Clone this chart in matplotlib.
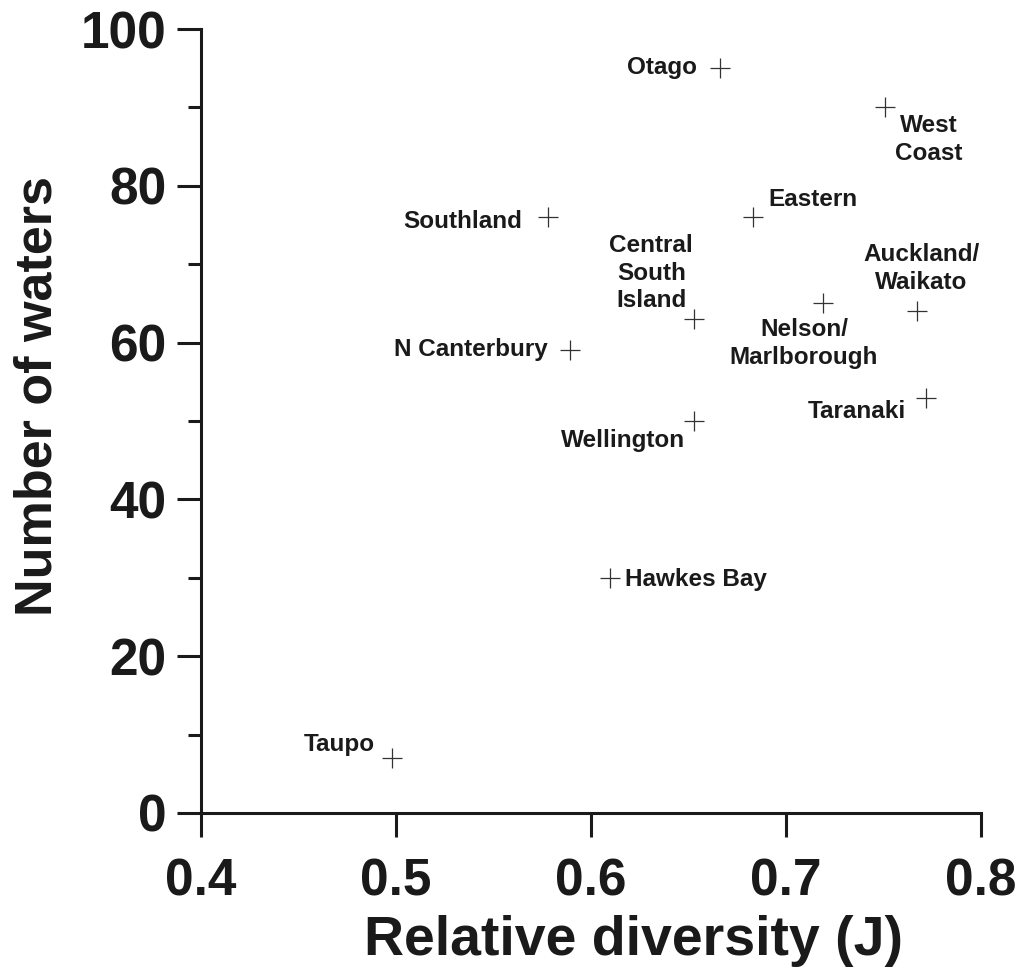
import matplotlib
matplotlib.use("Agg")
import matplotlib.pyplot as plt
from matplotlib.ticker import MultipleLocator, FormatStrFormatter

# Regional data: relative diversity (J) vs number of waters
regions = ["Otago", "West\nCoast", "Eastern", "Southland", "Central\nSouth\nIsland",
           "Nelson/\nMarlborough", "Auckland/\nWaikato", "N Canterbury",
           "Wellington", "Taranaki", "Hawkes Bay", "Taupo"]
diversity = [0.666, 0.751, 0.683, 0.578, 0.653, 0.719, 0.767, 0.589, 0.653, 0.772, 0.610, 0.498]
n_waters = [95, 90, 76, 76, 63, 65, 64, 59, 50, 53, 30, 7]

# label placement: (dx, dy) in pixels, horizontal alignment
label_pos = {
    "Otago": (-23, 1, "right"),
    "West\nCoast": (43, -32, "center"),
    "Eastern": (16, 18, "left"),
    "Southland": (-26, -4, "right"),
    "Central\nSouth\nIsland": (-43, 46, "center"),
    "Nelson/\nMarlborough": (-19, -40, "center"),
    "Auckland/\nWaikato": (5, 43, "center"),
    "N Canterbury": (-22, 1, "right"),
    "Wellington": (-9, -19, "right"),
    "Taranaki": (-20, -14, "right"),
    "Hawkes Bay": (15, -2, "left"),
    "Taupo": (-17, 14, "right"),
}

plt.rcParams["font.family"] = ["Liberation Sans", "DejaVu Sans"]
plt.rcParams["font.weight"] = "bold"
ink = "#1a1a1a"

fig = plt.figure(figsize=(10.26, 9.69), dpi=100)
ax = fig.add_axes([0.196, 0.161, 0.760, 0.809])

ax.plot(diversity, n_waters, linestyle="none", marker="+", markersize=14,
        markeredgewidth=0.9, color="#333333")

for name, x, y in zip(regions, diversity, n_waters):
    dx, dy, ha = label_pos[name]
    ax.annotate(name, (x, y), xytext=(dx, dy), textcoords="offset pixels",
                ha=ha, va="center", multialignment="center", linespacing=1.27,
                fontsize=17.5, fontweight="bold", color=ink)

ax.set_xlim(0.4, 0.8)
ax.set_ylim(0, 100)
ax.xaxis.set_major_locator(MultipleLocator(0.1))
ax.xaxis.set_major_formatter(FormatStrFormatter("%.1f"))
ax.yaxis.set_major_locator(MultipleLocator(20))
ax.yaxis.set_minor_locator(MultipleLocator(10))

for side in ("top", "right"):
    ax.spines[side].set_visible(False)
for side in ("left", "bottom"):
    ax.spines[side].set_linewidth(2.2)
    ax.spines[side].set_color(ink)

ax.tick_params(which="major", length=17, width=2.2, color=ink,
               labelsize=37, labelcolor=ink)
ax.tick_params(axis="x", which="major", pad=15)
ax.tick_params(axis="y", which="major", pad=8)
ax.tick_params(which="minor", length=9.5, width=2.2, color=ink)

ax.set_xlabel("Relative diversity (J)", fontsize=40, fontweight="bold", color=ink)
ax.set_ylabel("Number of waters", fontsize=37.5, fontweight="bold", color=ink)
ax.xaxis.set_label_coords(0.554, -0.13)
ax.yaxis.set_label_coords(-0.178, 0.532)

fig.savefig("out.png", dpi=100)
